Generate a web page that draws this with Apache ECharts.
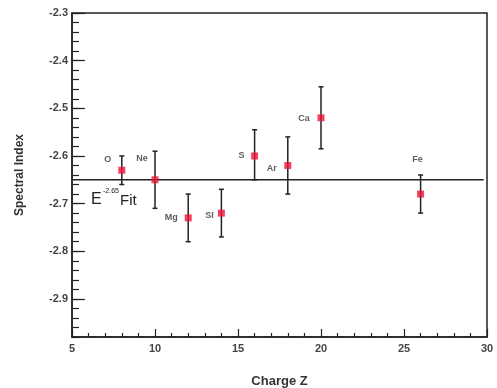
<!DOCTYPE html>
<html>
<head>
<meta charset="utf-8">
<script src="https://cdn.jsdelivr.net/npm/echarts@6/dist/echarts.min.js"></script>
<style>
  html, body { margin: 0; background: #fff; }
  #main { width: 497px; height: 388px; }
</style>
</head>
<body>
<div id="main"></div>
<script>
// data
const elementNames = ['O', 'Ne', 'Mg', 'SI', 'S', 'Ar', 'Ca', 'Fe']
const chargeZ = [8, 10, 12, 14, 16, 18, 20, 26]
const spectralIndex = [-2.63, -2.65, -2.73, -2.72, -2.6, -2.62, -2.52, -2.68]
const errLow = [-2.66, -2.71, -2.78, -2.77, -2.65, -2.68, -2.585, -2.72]
const errHigh = [-2.6, -2.59, -2.68, -2.67, -2.545, -2.56, -2.455, -2.64]
const fitIndex = -2.65
const fitZ = [5, 29.8]
const xTicks = [5, 30, 5]
const yRange = [-2.98, -2.3]

// label offsets (px) for the element names
const labelOffset = [[-14, -11], [-13, -21], [-17, 0], [-12, 2], [-13, 0], [-16, 3], [-17, 1], [-3, -35]]

const font = 'Liberation Sans, Arial, sans-serif'
const ink = '#222'

const chart = echarts.init(document.getElementById('main'))

const gridTop = 13
const gridBottom = 51
const plotH = 388 - gridTop - gridBottom
// second grid only carries the major y ticks (from -2.9 up)
const majorBottom = gridBottom + plotH * ((-2.9 - yRange[0]) / (yRange[1] - yRange[0]))

const option = {
  animation: false,
  backgroundColor: '#fff',
  grid: [
    {
      left: 72, right: 10, top: gridTop, bottom: gridBottom, outerBoundsMode: 'none',
      show: true, borderColor: ink, borderWidth: 1.5
    },
    { left: 72, right: 10, top: gridTop, bottom: majorBottom, outerBoundsMode: 'none', show: false }
  ],
  xAxis: [
    {
      gridIndex: 0,
      type: 'value',
      min: xTicks[0],
      max: xTicks[1],
      interval: xTicks[2],
      name: 'Charge Z',
      nameLocation: 'middle',
      nameGap: 38,
      nameTextStyle: { fontFamily: font, fontSize: 13, fontWeight: 'bold', color: '#333' },
      splitLine: { show: false },
      axisLine: { lineStyle: { color: ink, width: 1.5 } },
      axisTick: { inside: true, length: 8, lineStyle: { color: ink, width: 1.2 } },
      minorTick: { show: true, splitNumber: 5, length: 4, lineStyle: { color: ink, width: 1.2 } },
      axisLabel: { fontFamily: font, fontSize: 11, fontWeight: 'bold', color: '#444', margin: 6 }
    },
    {
      gridIndex: 1,
      type: 'value',
      min: xTicks[0],
      max: xTicks[1],
      show: false
    }
  ],
  yAxis: [
    {
      gridIndex: 0,
      type: 'value',
      min: yRange[0],
      max: yRange[1],
      interval: 0.02,
      name: 'Spectral Index',
      nameLocation: 'middle',
      nameGap: 46,
      nameTextStyle: { fontFamily: font, fontSize: 12, fontWeight: 'bold', color: '#333' },
      splitLine: { show: false },
      axisLine: { lineStyle: { color: ink, width: 1.5 } },
      axisTick: { inside: true, length: 7, lineStyle: { color: ink, width: 1.2 } },
      axisLabel: { show: false }
    },
    {
      gridIndex: 1,
      type: 'value',
      min: -2.9,
      max: yRange[1],
      interval: 0.1,
      splitLine: { show: false },
      axisLine: { show: false },
      axisTick: { inside: true, length: 13, lineStyle: { color: ink, width: 1.2 } },
      axisLabel: {
        fontFamily: font, fontSize: 11, fontWeight: 'bold', color: '#444', margin: 4,
        formatter: v => v.toFixed(1)
      }
    }
  ],
  graphic: [
    { type: 'text', left: 91, top: 192, style: { text: 'E', fontFamily: font, fontSize: 16, fill: ink } },
    { type: 'text', left: 103, top: 188, style: { text: '-2.65', fontFamily: font, fontSize: 7, fill: ink } },
    { type: 'text', left: 120, top: 193, style: { text: 'Fit', fontFamily: font, fontSize: 15, fill: ink } }
  ],
  series: [
    {
      name: 'fit',
      type: 'line',
      xAxisIndex: 0,
      yAxisIndex: 0,
      data: fitZ.map(z => [z, fitIndex]),
      symbol: 'none',
      lineStyle: { color: ink, width: 1.5 },
      z: 1
    },
    {
      name: 'error',
      type: 'custom',
      xAxisIndex: 0,
      yAxisIndex: 0,
      data: chargeZ.map((z, i) => [z, errLow[i], errHigh[i]]),
      renderItem: (params, api) => {
        const x = api.value(0)
        const lo = api.coord([x, api.value(1)])
        const hi = api.coord([x, api.value(2)])
        const w = 2.5
        const style = { stroke: ink, lineWidth: 1.5 }
        return {
          type: 'group',
          children: [
            { type: 'line', shape: { x1: lo[0], y1: lo[1], x2: hi[0], y2: hi[1] }, style },
            { type: 'line', shape: { x1: lo[0] - w, y1: lo[1], x2: lo[0] + w, y2: lo[1] }, style },
            { type: 'line', shape: { x1: hi[0] - w, y1: hi[1], x2: hi[0] + w, y2: hi[1] }, style }
          ]
        }
      },
      z: 2
    },
    {
      name: 'index',
      type: 'scatter',
      xAxisIndex: 0,
      yAxisIndex: 0,
      symbol: 'rect',
      symbolSize: 7,
      itemStyle: { color: '#ee1438' },
      data: chargeZ.map((z, i) => ({
        value: [z, spectralIndex[i]],
        label: { offset: labelOffset[i] }
      })),
      label: {
        show: true,
        position: 'inside',
        formatter: p => elementNames[p.dataIndex],
        fontFamily: font,
        fontSize: 9,
        fontWeight: 'bold',
        color: '#333'
      },
      z: 3
    }
  ]
}

chart.setOption(option)
</script>
</body>
</html>
